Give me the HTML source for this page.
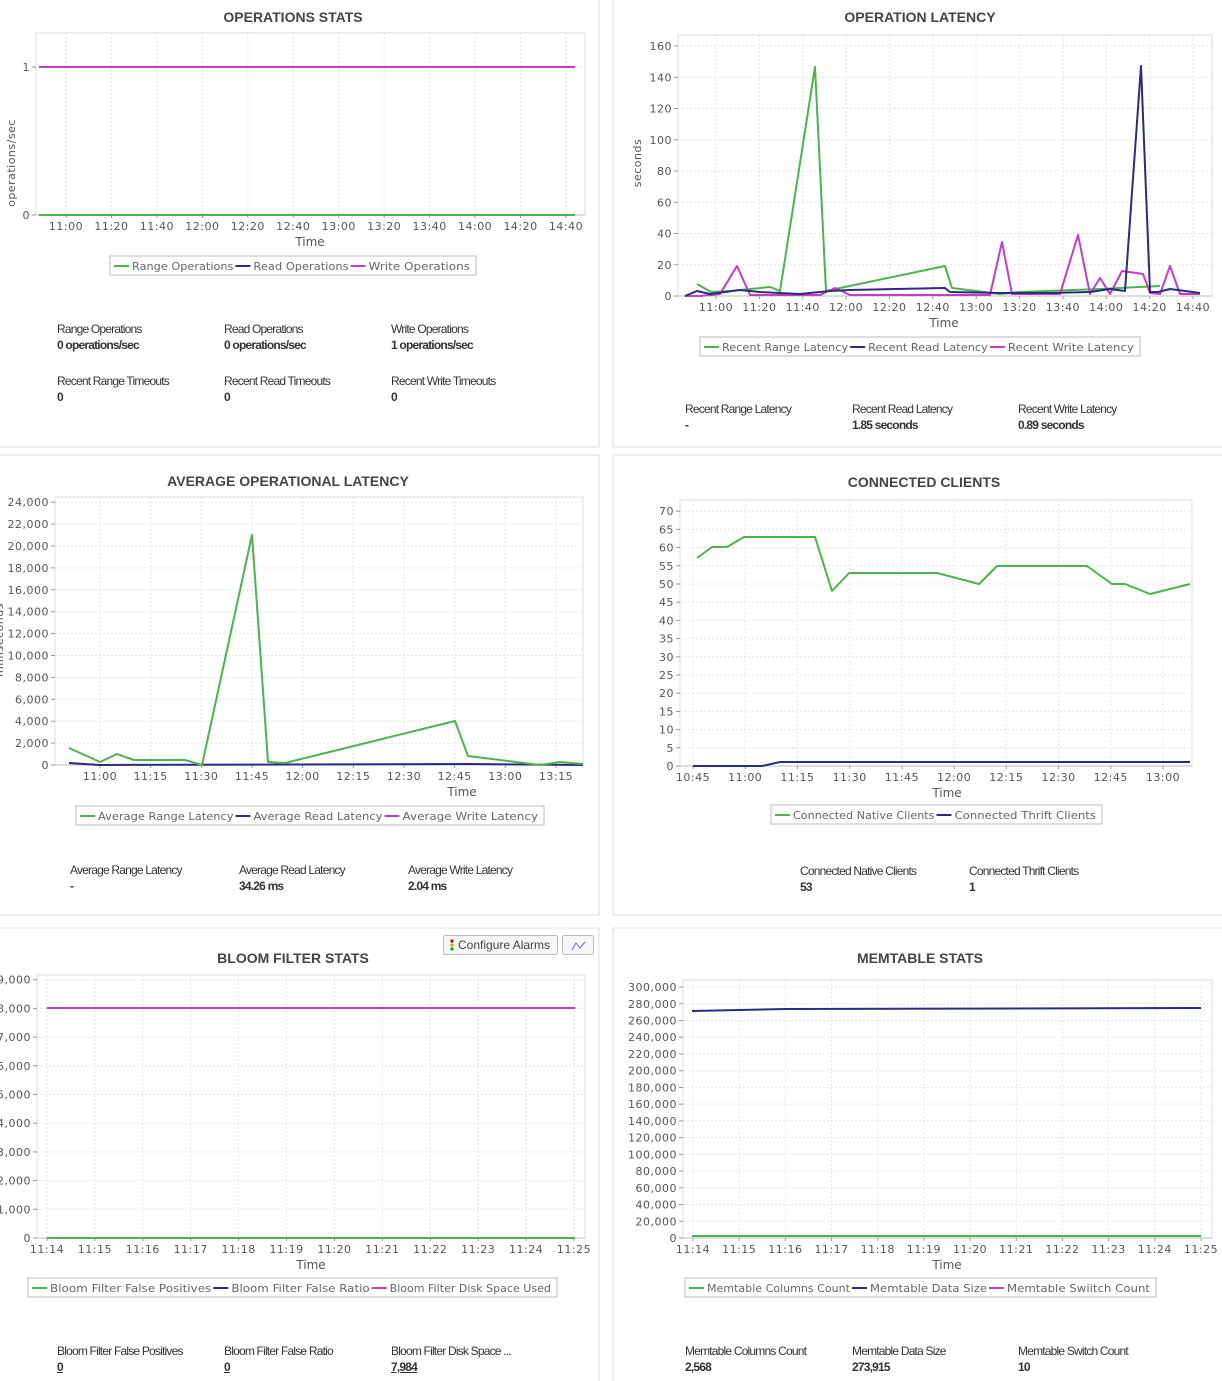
<!DOCTYPE html>
<html><head><meta charset="utf-8">
<style>
body{margin:0;background:#fff;width:1222px;height:1381px;overflow:hidden;font-family:"Liberation Sans",sans-serif;}
svg text{font-family:"DejaVu Sans",sans-serif;}
.st{position:absolute;font-family:"Liberation Sans",sans-serif;font-size:12px;color:#333;letter-spacing:-0.8px;}
.st b{display:block;font-size:12px;color:#333;margin-top:2px}
</style></head><body>
<svg id="s" width="1222" height="1381" xmlns="http://www.w3.org/2000/svg" style="position:absolute;left:0;top:0"></svg>
<div id="stats"></div>
<script>
var S=document.getElementById('s'),out='';
function t(x,y,s,o){o=o||{};out+='<text x="'+x+'" y="'+y+'" font-size="'+(o.fs||11)+'" fill="'+(o.c||'#555')+'" text-anchor="'+(o.a||'middle')+'"'+(o.w?' font-weight="bold"':'')+(o.ff?' style="font-family:'+o.ff+'"':'')+(o.tr?' transform="'+o.tr+'"':'')+(o.ls?' letter-spacing="'+o.ls+'"':'')+(o.tl?' textLength="'+o.tl+'" lengthAdjust="spacingAndGlyphs"':'')+'>'+s+'</text>';}
function l(x1,y1,x2,y2,c,w,d){out+='<line x1="'+x1+'" y1="'+y1+'" x2="'+x2+'" y2="'+y2+'" stroke="'+c+'" stroke-width="'+(w||1)+'"'+(d?' stroke-dasharray="'+d+'"':'')+'/>';}
function pl(p,c){out+='<polyline fill="none" stroke="'+c+'" stroke-width="2" stroke-linejoin="round" points="'+p.map(function(a){return a.join(',')}).join(' ')+'"/>';}
var G='#4db34d',B='#2b2b7f',P='#c23fc2';
function chart(o){
 out+='<rect x="'+o.x1+'" y="'+o.y1+'" width="'+(o.x2-o.x1)+'" height="'+(o.y2-o.y1)+'" fill="#fff" stroke="#ddd"/>';
 o.yt.forEach(function(v){l(o.x1,v[0],o.x2,v[0],'#e4e4e4',1,'2,2');l(o.x1-4,v[0],o.x1,v[0],'#999');t(o.x1-6,v[0]+4,v[1],{a:'end',ls:'0.5'});});
 o.xt.forEach(function(v){l(v[0],o.y1,v[0],o.y2,'#e4e4e4',1,'2,2');l(v[0],o.y2,v[0],o.y2+3,'#999');t(v[0],o.y2+15,v[1],{ls:'0.5'});});
 l(o.x1,o.y2,o.x2,o.y2,'#bbb');
 t(o.tx,o.ty,o.title,{fs:14,w:1,c:'#444',ff:'Liberation Sans'});
 t(o.tmx,o.y2+31,'Time',{fs:12,c:'#555'});
 if(o.yl)t(0,0,o.yl[2],{fs:11,tr:'translate('+o.yl[0]+','+o.yl[1]+') rotate(-90)',ls:'0.5'});
 out+='<rect x="'+o.lg[0]+'" y="'+o.lg[1]+'" width="'+(o.lg[2]-o.lg[0])+'" height="19" fill="#fff" stroke="#bbb"/>';
 var cs=[G,B,P],n=o.ln.length,tot=o.lg[2]-o.lg[0]-8,chars=o.ln.join('').length,cw=(tot-n*20)/chars,x=o.lg[0]+4;
 o.ln.forEach(function(s,i){l(x,o.lg[1]+10,x+15,o.lg[1]+10,cs[i],2);var w=s.length*cw;t(x+18,o.lg[1]+14,s,{a:'start',c:'#666',tl:w.toFixed(1)});x+=20+w;});
 o.s.forEach(function(s){pl(s[0],s[1]);});
}
function range(a,b,n){var r=[];for(var i=0;i<n;i++)r.push(a+(b-a)*i/(n-1));return r;}
l(599,0,599,447,'#ddd');l(0,447,599,447,'#ddd');l(613,0,613,447,'#ddd');l(613,447,1222,447,'#ddd');
l(0,455,599,455,'#ddd');l(599,455,599,915,'#ddd');l(0,915,599,915,'#ddd');
l(613,455,1222,455,'#ddd');l(613,455,613,915,'#ddd');l(613,915,1222,915,'#ddd');
l(0,928,599,928,'#ddd');l(599,928,599,1381,'#ddd');l(613,928,1222,928,'#ddd');l(613,928,613,1381,'#ddd');

var xl1=['11:00','11:20','11:40','12:00','12:20','12:40','13:00','13:20','13:40','14:00','14:20','14:40'];
chart({x1:36,y1:33,x2:585,y2:215,title:'OPERATIONS STATS',tx:293,ty:22,tmx:310,
 yt:[[67,'1'],[215,'0']],xt:range(66,566,12).map(function(v,i){return [v,xl1[i]]}),
 yl:[15,163,'operations/sec'],lg:[110,256,476],ln:['Range Operations','Read Operations','Write Operations'],
 s:[[[[39,215],[575,215]],B],[[[39,215],[575,215]],G],[[[39,67],[575,67]],P]]});

var yt2=[];for(var i=0;i<=8;i++)yt2.push([296-i*31.25,''+i*20]);
chart({x1:678,y1:35,x2:1212,y2:296,title:'OPERATION LATENCY',tx:920,ty:22,tmx:944,
 yt:yt2,xt:range(716,1193,12).map(function(v,i){return [v,xl1[i]]}),
 yl:[641,163,'seconds'],lg:[700,337,1140],ln:['Recent Range Latency','Recent Read Latency','Recent Write Latency'],
 s:[[[[697,284],[711,292],[730,291],[770,287],[780,291],[815,67],[826,291],[840,288],[945,266],[952,288],[1000,294],[1020,292],[1100,289],[1160,286]],G],
 [[[685,296],[700,296],[720,294],[737,266],[750,295],[820,295],[835,288],[850,295],[990,295],[1002,242],[1012,294],[1060,294],[1078,235],[1090,294],[1100,278],[1110,294],[1122,271],[1143,274],[1150,293],[1160,294],[1170,266],[1180,294],[1200,294]],P],
 [[[685,296],[697,291],[710,294],[740,290],[760,292],[800,294],[830,291],[850,290],[945,288],[950,292],[1000,293],[1050,293],[1090,292],[1110,289],[1125,291],[1141,66],[1150,292],[1158,292],[1170,289],[1200,293]],B]]});

var yt3=[];for(var i=0;i<=12;i++)yt3.push([765-i*21.9,(i*2000).toLocaleString('en-US')]);
var xl3=['11:00','11:15','11:30','11:45','12:00','12:15','12:30','12:45','13:00','13:15'];
chart({x1:55,y1:497,x2:583,y2:765,title:'AVERAGE OPERATIONAL LATENCY',tx:288,ty:486,tmx:462,
 yt:yt3,xt:range(100,556,10).map(function(v,i){return [v,xl3[i]]}),
 yl:[3,640,'milliseconds'],lg:[76,806,544],ln:['Average Range Latency','Average Read Latency','Average Write Latency'],
 s:[[[[69,763],[100,765],[470,764],[583,765]],B],[[[69,748],[100,762],[117,754],[134,760],[185,760],[202,765],[252,535],[268,762],[285,763],[455,721],[468,756],[540,765],[560,762],[583,764]],G]]});

var yt4=[];for(var i=0;i<=14;i++)yt4.push([766-i*18.2,''+i*5]);
var xl4=['10:45','11:00','11:15','11:30','11:45','12:00','12:15','12:30','12:45','13:00'];
chart({x1:680,y1:500,x2:1192,y2:766,title:'CONNECTED CLIENTS',tx:924,ty:487,tmx:947,
 yt:yt4,xt:range(693,1163,10).map(function(v,i){return [v,xl4[i]]}),
 lg:[771,805,1102],ln:['Connected Native Clients','Connected Thrift Clients'],
 s:[[[[697,558],[712,547],[727,547],[744,537],[815,537],[832,591],[849,573],[937,573],[979,584],[997,566],[1087,566],[1112,584],[1125,584],[1150,594],[1190,584]],G],[[[693,766],[762,766],[780,762],[1190,762]],B]]});

var yt5=[];for(var i=0;i<=9;i++)yt5.push([1238-i*28.7,(i*1000).toLocaleString('en-US')]);
var xl5=['11:14','11:15','11:16','11:17','11:18','11:19','11:20','11:21','11:22','11:23','11:24','11:25'];
chart({x1:37,y1:975,x2:585,y2:1238,title:'BLOOM FILTER STATS',tx:293,ty:963,tmx:311,
 yt:yt5,xt:range(47,574,12).map(function(v,i){return [v,xl5[i]]}),
 lg:[28,1278,557],ln:['Bloom Filter False Positives','Bloom Filter False Ratio','Bloom Filter Disk Space Used'],
 s:[[[[47,1008],[575,1008]],P],[[[47,1238],[575,1238]],G]]});

var yt6=[];for(var i=0;i<=15;i++)yt6.push([1238-i*16.73,(i*20000).toLocaleString('en-US')]);
chart({x1:683,y1:980,x2:1212,y2:1238,title:'MEMTABLE STATS',tx:920,ty:963,tmx:947,
 yt:yt6,xt:range(693,1201,12).map(function(v,i){return [v,xl5[i]]}),
 lg:[685,1278,1156],ln:['Memtable Columns Count','Memtable Data Size','Memtable Swiitch Count'],
 s:[[[[692,1011],[785,1009],[1201,1008]],B],[[[692,1236],[1201,1236]],G]]});

out+='<rect x="443.5" y="935.5" width="114" height="19" rx="2" fill="#f6f6f6" stroke="#bbb"/>';
out+='<circle cx="452" cy="941" r="1.6" fill="#c00"/><circle cx="452" cy="945" r="1.6" fill="#ca0"/><circle cx="452" cy="949" r="1.6" fill="#0a0"/>';
t(458,949,'Configure Alarms',{a:'start',fs:12,c:'#444',ff:'Liberation Sans'});
out+='<rect x="562.5" y="935.5" width="31" height="19" rx="2" fill="#f6f6f6" stroke="#bbb"/>';
out+='<polyline points="572,950 576,943 580,948 585,942" fill="none" stroke="#67a" stroke-width="1"/>';
S.innerHTML=out;

var st=[[57,329,'Range Operations','0 operations/sec'],[224,329,'Read Operations','0 operations/sec'],[391,329,'Write Operations','1 operations/sec'],
[57,381,'Recent Range Timeouts','0'],[224,381,'Recent Read Timeouts','0'],[391,381,'Recent Write Timeouts','0'],
[685,409,'Recent Range Latency','-'],[852,409,'Recent Read Latency','1.85 seconds'],[1018,409,'Recent Write Latency','0.89 seconds'],
[70,870,'Average Range Latency','-'],[239,870,'Average Read Latency','34.26 ms'],[408,870,'Average Write Latency','2.04 ms'],
[800,871,'Connected Native Clients','53'],[969,871,'Connected Thrift Clients','1'],
[57,1351,'Bloom Filter False Positives','<u>0</u>'],[224,1351,'Bloom Filter False Ratio','<u>0</u>'],[391,1351,'Bloom Filter Disk Space ...','<u>7,984</u>'],
[685,1351,'Memtable Columns Count','2,568'],[852,1351,'Memtable Data Size','273,915'],[1018,1351,'Memtable Switch Count','10']];
var h='';st.forEach(function(s){h+='<div class="st" style="left:'+s[0]+'px;top:'+(s[1]-7)+'px">'+s[2]+'<b>'+s[3]+'</b></div>';});
document.getElementById('stats').innerHTML=h;
</script>
</body></html>
